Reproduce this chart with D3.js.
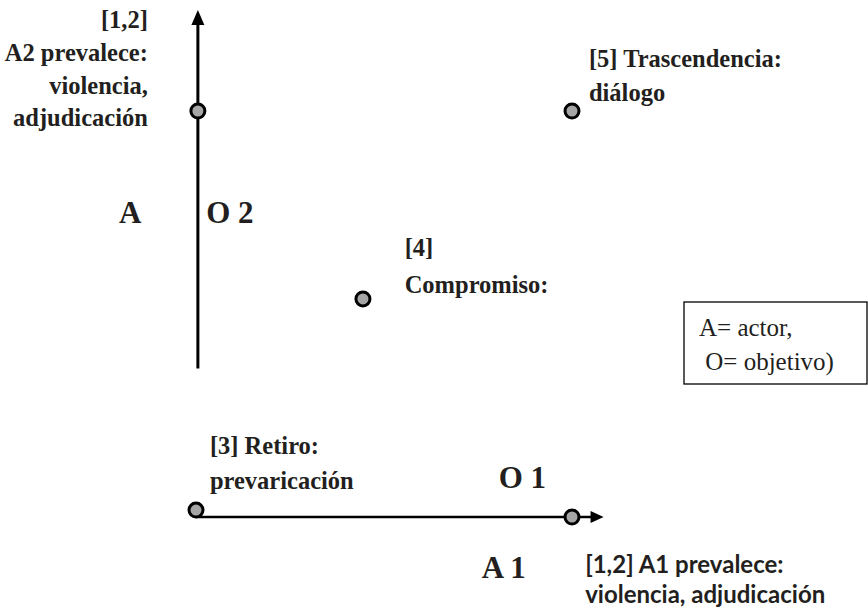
<!DOCTYPE html>
<html>
<head>
<meta charset="utf-8">
<script src="https://cdn.jsdelivr.net/npm/d3@7"></script>
<style>
  html, body { margin: 0; padding: 0; background: #fff; }
  svg { display: block; }
  .serif { font-family: "Liberation Serif", "DejaVu Serif", serif; }
  .sans { font-family: "Lato", "Open Sans", sans-serif; }
</style>
</head>
<body>
<svg id="chart" width="868" height="610"></svg>
<script>
// ---------- data ----------
// points in conceptual space (x: objective 1 / actor 1, y: objective 2 / actor 2)
const pointNames = ["A2 prevalece", "Trascendencia", "Compromiso", "Retiro", "A1 prevalece"];
const pointX = [0.005, 1.0, 0.444, 0.0, 1.0];
const pointY = [1.0, 1.0, 0.537, 0.017, 0.0];

// axes extents in the same space
const vAxisX = 0.005;
const vAxisRange = [0.366, 1.249];   // bottom, arrow tip
const hAxisY = 0.0;
const hAxisRange = [0.0, 1.084];     // start, arrow tip

// labels
const labelText = [
  "[1,2]", "A2 prevalece:", "violencia,", "adjudicación",
  "A", "O 2",
  "[4]", "Compromiso:",
  "[5] Trascendencia:", "diálogo",
  "[3] Retiro:", "prevaricación",
  "O 1", "A 1",
  "[1,2] A1 prevalece:", "violencia, adjudicación"
];
const labelX = [-0.128, -0.128, -0.128, -0.128, -0.205, 0.027, 0.555, 0.555, 1.045, 1.045, 0.037, 0.037, 0.805, 0.76, 1.035, 1.035];
const labelY = [1.204, 1.123, 1.042, 0.963, 0.724, 0.724, 0.643, 0.552, 1.108, 1.025, 0.155, 0.069, 0.072, -0.150, -0.138, -0.212];
const labelAnchor = ["end","end","end","end","start","start","start","start","start","start","start","start","start","start","start","start"];
const labelKind = ["s","s","s","s","big","big","s","s","s","s","s","s","big","big","sans","sans"];

const legendLines = ["A= actor,", " O= objetivo)"];

// ---------- drawing ----------
const svg = d3.select("#chart");
const x = d3.scaleLinear().domain([0, 1]).range([196, 572]);
const y = d3.scaleLinear().domain([0, 1]).range([517, 111]);

// vertical axis
svg.append("line")
  .attr("x1", x(vAxisX)).attr("x2", x(vAxisX))
  .attr("y1", y(vAxisRange[0])).attr("y2", y(vAxisRange[1]) + 12)
  .attr("stroke", "#000").attr("stroke-width", 3);
svg.append("path")
  .attr("d", `M${x(vAxisX)},${y(vAxisRange[1])} L${x(vAxisX) - 6.5},${y(vAxisRange[1]) + 15} L${x(vAxisX) + 6.5},${y(vAxisRange[1]) + 15} Z`)
  .attr("fill", "#000");

// horizontal axis
svg.append("line")
  .attr("x1", x(hAxisRange[0])).attr("x2", x(hAxisRange[1]) - 10)
  .attr("y1", y(hAxisY)).attr("y2", y(hAxisY))
  .attr("stroke", "#000").attr("stroke-width", 2.6);
svg.append("path")
  .attr("d", `M${x(hAxisRange[1])},${y(hAxisY)} L${x(hAxisRange[1]) - 13},${y(hAxisY) - 6} L${x(hAxisRange[1]) - 13},${y(hAxisY) + 6} Z`)
  .attr("fill", "#000");

// points
svg.selectAll("circle.pt")
  .data(pointNames.map((n, i) => ({ n, x: pointX[i], y: pointY[i] })))
  .join("circle")
  .attr("class", "pt")
  .attr("cx", d => x(d.x))
  .attr("cy", d => y(d.y))
  .attr("r", 7)
  .attr("fill", "#a6a6a6")
  .attr("stroke", "#000")
  .attr("stroke-width", 3);

// labels
const styles = {
  s:   { cls: "serif", size: 24.5, weight: "bold" },
  big: { cls: "serif", size: 31, weight: "bold" },
  sans:{ cls: "sans", size: 24, weight: "bold" }
};
svg.selectAll("text.lbl")
  .data(labelText.map((t, i) => ({ t, x: labelX[i], y: labelY[i], a: labelAnchor[i], k: labelKind[i] })))
  .join("text")
  .attr("class", d => "lbl " + styles[d.k].cls)
  .attr("x", d => x(d.x))
  .attr("y", d => y(d.y))
  .attr("text-anchor", d => d.a)
  .style("font-size", d => styles[d.k].size + "px")
  .style("font-weight", d => styles[d.k].weight)
  .attr("fill", "#231f20")
  .text(d => d.t);

// legend box
const lg = svg.append("g");
lg.append("rect")
  .attr("x", 684).attr("y", 302)
  .attr("width", 183).attr("height", 82)
  .attr("fill", "#fff").attr("stroke", "#000").attr("stroke-width", 1.3);
lg.selectAll("text")
  .data(legendLines)
  .join("text")
  .attr("class", "serif")
  .attr("x", 699)
  .attr("y", (d, i) => 336 + i * 34)
  .style("font-size", "25px")
  .attr("fill", "#231f20")
  .style("white-space", "pre")
  .text(d => d);
</script>
</body>
</html>
